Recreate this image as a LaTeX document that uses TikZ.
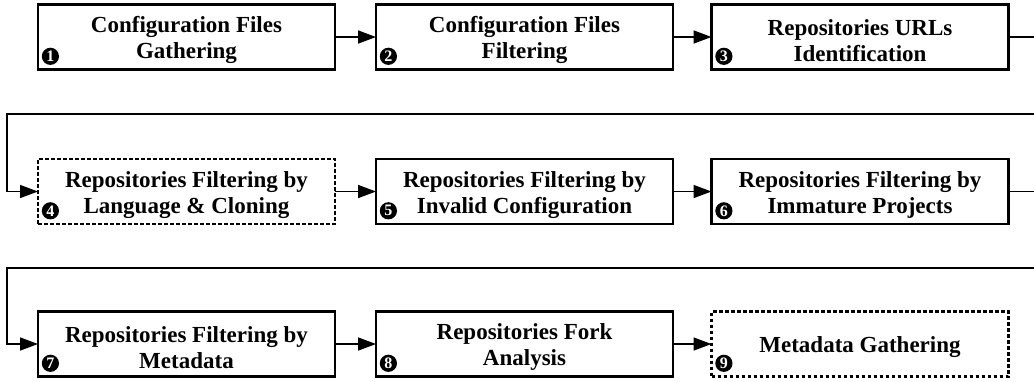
\documentclass[tikz,border=0pt]{standalone}
\usepackage{fontspec}
\setmainfont{Liberation Serif}
\usetikzlibrary{arrows.meta}
\tikzset{
  stepbox/.style={draw=black, line width=1.1pt, minimum width=148.5pt, minimum height=32.5pt,
    inner sep=0pt, outer sep=0pt},
  dashbox/.style={stepbox, dash pattern=on 1.8pt off 1.2pt},
  steptext/.style={align=center, inner sep=0pt, font=\bfseries\fontsize{11.5}{13}\selectfont},
  badge/.style={circle, fill=black, text=white, minimum size=8.6pt, inner sep=0pt,
    font=\bfseries\fontsize{8}{8}\selectfont},
  arr/.style={draw=black, line width=0.8pt, -{Triangle[length=9pt,width=6.5pt]}},
}
\begin{document}
\begin{tikzpicture}[x=0.5pt,y=-0.5pt]
\useasboundingbox (0,0) rectangle (1034,381);
% row 1
\node[stepbox] (b1) at (186.5,37) {};
\node[stepbox] (b2) at (524.5,37) {};
\node[stepbox] (b3) at (860,37) {};
% row 2
\node[dashbox] (b4) at (186.5,191.5) {};
\node[stepbox] (b5) at (524.5,191.5) {};
\node[stepbox] (b6) at (860,191.5) {};
% row 3
\node[stepbox] (b7) at (186.5,344) {};
\node[stepbox] (b8) at (524.5,344) {};
\node[dashbox] (b9) at (860,344) {};
% texts
\node[steptext] (t1) at ([yshift=-1.6pt]b1.center) {Configuration Files\\Gathering};
\node[steptext] (t2) at ([yshift=-1.6pt]b2.center) {Configuration Files\\Filtering};
\node[steptext] (t3) at ([yshift=-1.6pt]b3.center) {Repositories URLs\\Identification};
\node[steptext] (t4) at ([yshift=-1.6pt]b4.center) {Repositories Filtering by\\Language \& Cloning};
\node[steptext] (t5) at ([yshift=-1.6pt]b5.center) {Repositories Filtering by\\Invalid Configuration};
\node[steptext] (t6) at ([yshift=-1.6pt]b6.center) {Repositories Filtering by\\Immature Projects};
\node[steptext] (t7) at ([yshift=-1.6pt]b7.center) {Repositories Filtering by\\Metadata};
\node[steptext] (t8) at ([yshift=-1.6pt]b8.center) {Repositories Fork\\Analysis};
\node[steptext] (t9) at ([yshift=-1.6pt]b9.center) {Metadata Gathering};
% badges
\foreach \i in {1,...,9}{
  \node[badge] (n\i) at ([xshift=6.2pt,yshift=6.6pt]b\i.south west) {\i};
}
% connectors
\coordinate (r1) at (1050,114);
\coordinate (l1) at (7,114);
\coordinate (r2) at (1050,268);
\coordinate (l2) at (7,268);
\draw[arr] (b1.east) -- (b2.west);
\draw[arr] (b2.east) -- (b3.west);
\draw[arr] (b3.east) -| (r1) -- (l1) |- (b4.west);
\draw[arr] (b4.east) -- (b5.west);
\draw[arr] (b5.east) -- (b6.west);
\draw[arr] (b6.east) -| (r2) -- (l2) |- (b7.west);
\draw[arr] (b7.east) -- (b8.west);
\draw[arr] (b8.east) -- (b9.west);
\end{tikzpicture}
\end{document}
